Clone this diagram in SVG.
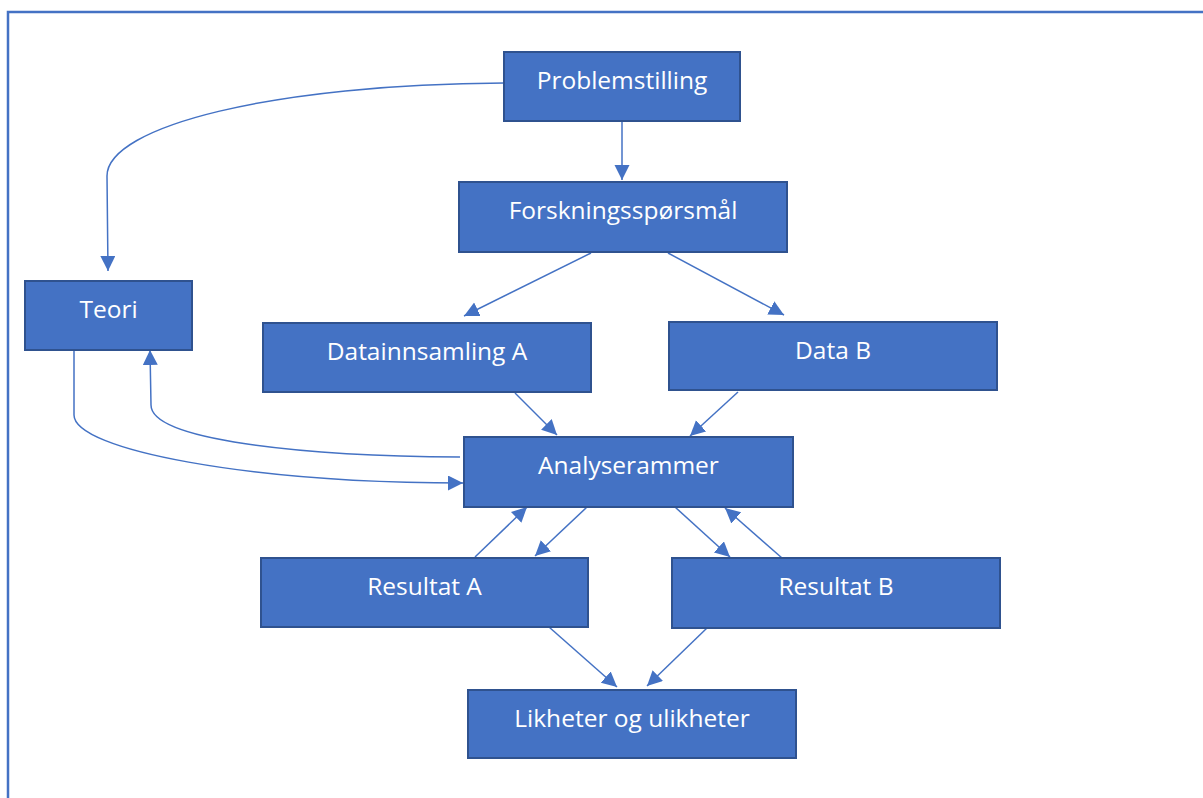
<svg xmlns="http://www.w3.org/2000/svg" width="1203" height="798" viewBox="0 0 1203 798">
<style>
.box{fill:#4472C4;stroke:#2F528F;stroke-width:2}
.lbl{font-family:"Open Sans","Noto Sans","Liberation Sans",sans-serif;font-size:24.5px;fill:#FFFFFF;text-anchor:middle}
.con{fill:none;stroke:#4472C4;stroke-width:1.5;marker-end:url(#ah)}
</style>
<defs>
<marker id="ah" markerUnits="userSpaceOnUse" markerWidth="17" markerHeight="16" refX="15" refY="7.5" orient="auto">
<path d="M0,0 L15,7.5 L0,15 z" fill="#4472C4"/>
</marker>
</defs>
<rect x="0" y="0" width="1203" height="798" fill="#FFFFFF"/>
<rect x="8" y="12" width="1300" height="900" fill="none" stroke="#4472C4" stroke-width="2.5"/>
<g id="connectors">
<path class="con" d="M622,122 L622,180"/>
<path class="con" d="M504,83 C275,84 107,126 107,176 L108,271"/>
<path class="con" d="M591,253 L464,316"/>
<path class="con" d="M668,253 L784,315"/>
<path class="con" d="M515,393 L557,435"/>
<path class="con" d="M738,392 L690,436"/>
<path class="con" d="M460,457 C300,456 151,440 151,405 L150,350"/>
<path class="con" d="M74,350 L74,415 C74,450 250,483 463,483"/>
<path class="con" d="M475,557 L527,507"/>
<path class="con" d="M587,507 L535,556"/>
<path class="con" d="M675,507 L730,557"/>
<path class="con" d="M782,558 L725,508"/>
<path class="con" d="M549,627 L617,687"/>
<path class="con" d="M707,628 L647,686"/>
</g>
<g id="problemstilling"><rect class="box" x="504" y="52" width="236" height="69"/><text class="lbl" x="622" y="88.5">Problemstilling</text></g>
<g id="forskningssporsmal"><rect class="box" x="459" y="182" width="328" height="70"/><text class="lbl" x="623" y="218.5">Forskningsspørsmål</text></g>
<g id="teori"><rect class="box" x="25" y="281" width="167" height="69"/><text class="lbl" x="108.5" y="317.5">Teori</text></g>
<g id="datainnsamling-a"><rect class="box" x="263" y="323" width="328" height="69"/><text class="lbl" x="427" y="359.5">Datainnsamling A</text></g>
<g id="data-b"><rect class="box" x="669" y="322" width="328" height="68"/><text class="lbl" x="833" y="358.5">Data B</text></g>
<g id="analyserammer"><rect class="box" x="464" y="437" width="329" height="70"/><text class="lbl" x="628.5" y="473.5">Analyserammer</text></g>
<g id="resultat-a"><rect class="box" x="261" y="558" width="327" height="69"/><text class="lbl" x="424.5" y="594.5">Resultat A</text></g>
<g id="resultat-b"><rect class="box" x="672" y="558" width="328" height="70"/><text class="lbl" x="836" y="594.5">Resultat B</text></g>
<g id="likheter"><rect class="box" x="468" y="690" width="328" height="68"/><text class="lbl" x="632" y="726.5">Likheter og ulikheter</text></g>
</svg>
